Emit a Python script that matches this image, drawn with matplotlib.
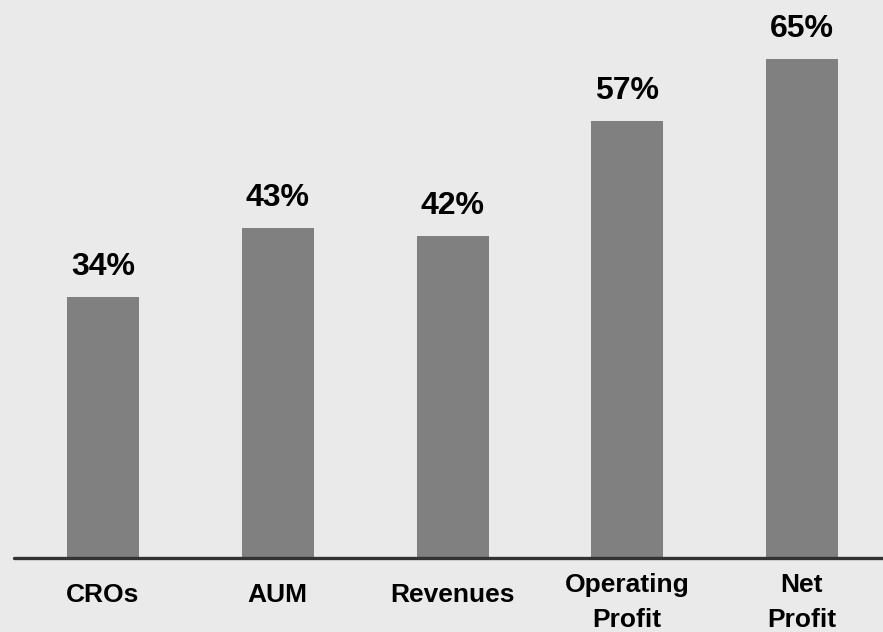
import matplotlib
matplotlib.use("Agg")
import matplotlib.pyplot as plt

categories = ["CROs", "AUM", "Revenues", "Operating\nProfit", "Net\nProfit"]
values = [34, 43, 42, 57, 65]
value_labels = ["34%", "43%", "42%", "57%", "65%"]

W, H, DPI = 883, 632, 100
BG = "#EAEAEA"
fig = plt.figure(figsize=(W / DPI, H / DPI), dpi=DPI, facecolor=BG)

base_px = 74  # baseline distance from bottom in pixels
ax = fig.add_axes([0, base_px / H, 1, 1 - base_px / H])
ax.set_facecolor(BG)

spacing = 174.75
c0 = 103
xs = list(range(len(categories)))
ax.bar(xs, values, width=72 / spacing, color="#808080", zorder=2)
ax.set_xlim(-c0 / spacing, (W - c0) / spacing)
ax.set_ylim(0, (H - base_px) / 7.67)

for s in ["top", "right", "left"]:
    ax.spines[s].set_visible(False)
ax.spines["bottom"].set_color("#333333")
ax.spines["bottom"].set_linewidth(2.4)
ax.spines["bottom"].set_capstyle("round")
ax.spines["bottom"].set_bounds((14 - c0) / spacing, (W - c0) / spacing)
ax.spines["bottom"].set_zorder(3)
ax.set_xticks([])
ax.set_yticks([])

font = "Liberation Sans"
for x, v, lab in zip(xs, values, value_labels):
    ax.annotate(lab, xy=(x, v), xytext=(0, 11), textcoords="offset points",
                ha="center", va="bottom", fontsize=23, fontweight="bold",
                family=font, color="black")

for x, cat in zip(xs, categories):
    nlines = cat.count("\n") + 1
    off = 26.5 if nlines == 1 else 32
    ax.annotate(cat, xy=(x, 0), xytext=(0, -off), textcoords="offset points",
                ha="center", va="center", fontsize=19, fontweight="bold",
                family=font, color="black", linespacing=1.6,
                annotation_clip=False)

fig.savefig("out.png", dpi=DPI, facecolor=BG)
